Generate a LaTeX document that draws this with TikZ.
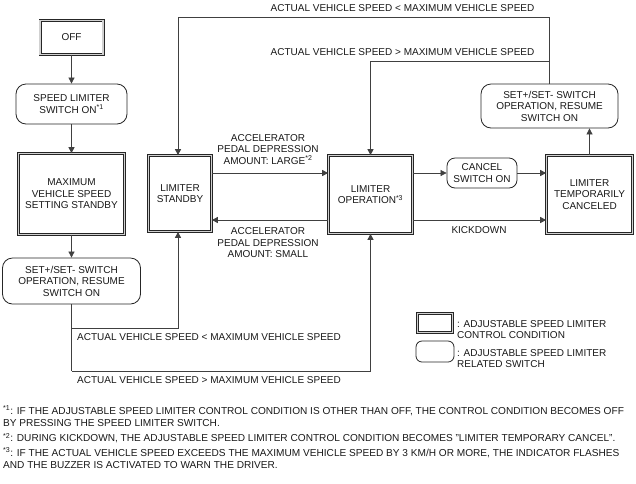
\documentclass[tikz,border=0pt]{standalone}
\usepackage{fontspec}
\setmainfont{Liberation Sans}
\usetikzlibrary{arrows.meta}
\begin{document}
\begin{tikzpicture}[x=1pt,y=-1pt,
  every node/.style={font=\fontsize{10}{11.5}\selectfont, text=black!90, inner sep=0pt},
  state/.style={draw=black!85, line width=0.7pt, double=black!18, double distance=1.6pt, align=center},
  switchbox/.style={draw=black!85, line width=0.8pt, rounded corners=10pt, align=center},
  conn/.style={draw=black!75, line width=0.7pt, -{Triangle[length=6pt,width=6pt]}},
  plain/.style={draw=black!75, line width=0.7pt},
  note/.style={anchor=west, align=left, font=\fontsize{10.1}{12}\selectfont}
]
\useasboundingbox[fill=white] (0,0) rectangle (636,483);

% states
\node[state, minimum width=63pt, minimum height=34pt] (off) at (71.5,37.5) {OFF};
\node[switchbox, minimum width=111pt, minimum height=40pt] (spd) at (71.5,104) {SPEED LIMITER\\SWITCH ON\textsuperscript{*1}};
\node[state, minimum width=106pt, minimum height=81pt] (max) at (71.5,194) {MAXIMUM\\VEHICLE SPEED\\SETTING STANDBY};
\node[switchbox, minimum width=138pt, minimum height=46pt] (setl) at (71.5,281) {SET+/SET- SWITCH\\OPERATION, RESUME\\SWITCH ON};
\node[state, minimum width=63pt, minimum height=76pt] (standby) at (180,193.5) {LIMITER\\STANDBY};
\node[state, minimum width=84pt, minimum height=78pt] (op) at (370.5,194.5) {LIMITER\\OPERATION\textsuperscript{*3}};
\node[switchbox, rounded corners=8pt, minimum width=70pt, minimum height=30pt] (cancel) at (482,173) {CANCEL\\SWITCH ON};
\node[state, minimum width=86pt, minimum height=78pt] (canceled) at (589.5,194.5) {LIMITER\\TEMPORARILY\\CANCELED};
\node[switchbox, minimum width=137pt, minimum height=44pt] (setr) at (549.5,106) {SET+/SET- SWITCH\\OPERATION, RESUME\\SWITCH ON};

% junction coordinates
\coordinate (tt) at (549.5,17);
\coordinate (tm) at (549.5,61);
\coordinate (lt) at (71.5,328);
\coordinate (lb) at (71.5,371);
\coordinate (ylow) at (0,220);
\coordinate (stx) at (178,0);

% connectors
\draw[conn] (off) -- (spd);
\draw[conn] (spd) -- (max);
\draw[conn] (max) -- (setl);
\draw[plain] (setl.south) -- (lb);
\draw[conn] (lt) -| (stx |- standby.south);
\draw[conn] (lb) -| (op.south);
\draw[plain] (setr.north) -- (tt);
\draw[conn] (tt) -| (stx |- standby.north);
\draw[conn] (tm) -| (op.north);
\draw[conn] (standby.east |- cancel.west) -- (op.west |- cancel.west);
\draw[conn] (op.west |- ylow) -- (standby.east |- ylow);
\draw[conn] (op.east |- cancel.west) -- (cancel.west);
\draw[conn] (cancel.east) -- (canceled.west |- cancel.east);
\draw[conn] (op.east |- ylow) -- (canceled.west |- ylow);
\draw[conn] (canceled.north) -- (canceled.north |- setr.south);

% labels
\node (l1) at (402.5,8) {ACTUAL VEHICLE SPEED < MAXIMUM VEHICLE SPEED};
\node (l2) at (402.5,52) {ACTUAL VEHICLE SPEED > MAXIMUM VEHICLE SPEED};
\node[align=center] (acc1) at (268,149.5) {ACCELERATOR\\PEDAL DEPRESSION\\AMOUNT: LARGE\textsuperscript{*2}};
\node[align=center] (acc2) at (268,243) {ACCELERATOR\\PEDAL DEPRESSION\\AMOUNT: SMALL};
\node (kd) at (479,230) {KICKDOWN};
\node[anchor=west] (l3) at (77,337) {ACTUAL VEHICLE SPEED < MAXIMUM VEHICLE SPEED};
\node[anchor=west] (l4) at (77,380) {ACTUAL VEHICLE SPEED > MAXIMUM VEHICLE SPEED};

% legend
\node[state, minimum width=35pt, minimum height=19pt] (lg1) at (435,323) {};
\node[switchbox, rounded corners=6pt, minimum width=38pt, minimum height=21pt] (lg2) at (435,351.5) {};
\node[anchor=west, align=left] (lgt1) at (457,329.5) {: ADJUSTABLE SPEED LIMITER\\CONTROL CONDITION};
\node[anchor=west, align=left] (lgt2) at (457,358.5) {: ADJUSTABLE SPEED LIMITER\\RELATED SWITCH};

% footnotes
\node[note] (n1) at (3,416) {\textsuperscript{*1}: IF THE ADJUSTABLE SPEED LIMITER CONTROL CONDITION IS OTHER THAN OFF, THE CONTROL CONDITION BECOMES OFF\\BY PRESSING THE SPEED LIMITER SWITCH.};
\node[note] (n2) at (3,438) {\textsuperscript{*2}: DURING KICKDOWN, THE ADJUSTABLE SPEED LIMITER CONTROL CONDITION BECOMES "LIMITER TEMPORARY CANCEL".};
\node[note] (n3) at (3,458) {\textsuperscript{*3}: IF THE ACTUAL VEHICLE SPEED EXCEEDS THE MAXIMUM VEHICLE SPEED BY 3 KM/H OR MORE, THE INDICATOR FLASHES\\AND THE BUZZER IS ACTIVATED TO WARN THE DRIVER.};
\end{tikzpicture}
\end{document}
